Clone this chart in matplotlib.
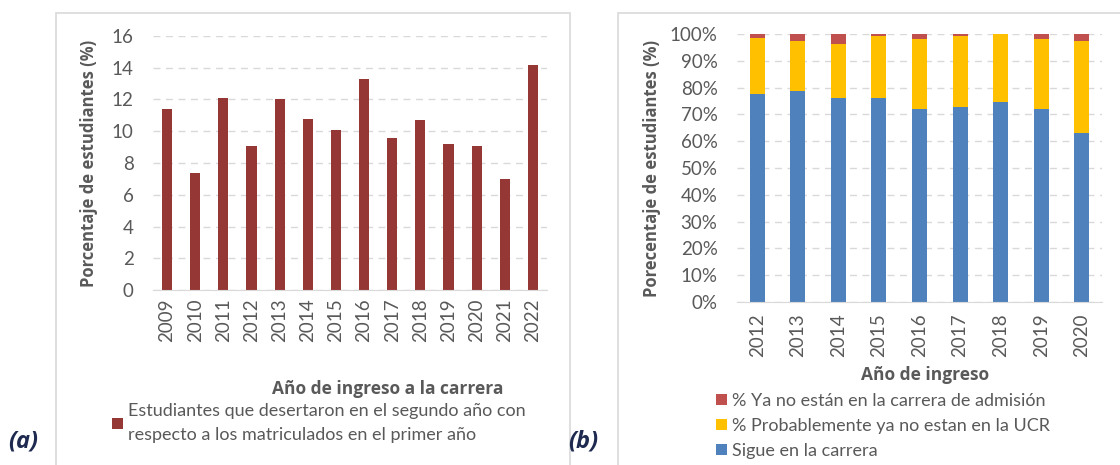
import matplotlib.pyplot as plt
from matplotlib.patches import Rectangle
import numpy as np

# (a) desertion in second year
years_a = ['2009', '2010', '2011', '2012', '2013', '2014', '2015',
           '2016', '2017', '2018', '2019', '2020', '2021', '2022']
desercion = [11.4, 7.4, 12.1, 9.1, 12.0, 10.8, 10.1, 13.3, 9.6, 10.7, 9.2, 9.1, 7.0, 14.2]

# (b) stacked shares
years_b = ['2012', '2013', '2014', '2015', '2016', '2017', '2018', '2019', '2020']
sigue = [77.5, 78.7, 76.3, 76.3, 72.1, 72.7, 74.5, 72.1, 63.2]
probable = [21.0, 18.7, 20.0, 23.0, 26.0, 26.6, 25.5, 26.0, 34.2]
ya_no = [1.5, 2.6, 3.7, 0.7, 1.9, 0.7, 0.0, 1.9, 2.6]

W, H = 1120, 465
plt.rcParams['font.family'] = ['Lato', 'DejaVu Sans']
bold_font = ['Open Sans', 'DejaVu Sans']
gray = '#595959'

fig = plt.figure(figsize=(W / 100, H / 100), dpi=100)

def px_axes(x0, y0, x1, y1):
    return fig.add_axes([x0 / W, 1 - y1 / H, (x1 - x0) / W, (y1 - y0) / H])

# panel frames
for x0, x1 in [(56, 570), (618, 1125)]:
    fig.patches.append(Rectangle((x0 / W, -0.01), (x1 - x0) / W, 1 - 13 / H + 0.01,
                                 transform=fig.transFigure, fill=False,
                                 edgecolor='#d9d9d9', lw=1.2))

def style(ax):
    for s in ['top', 'right', 'left']:
        ax.spines[s].set_visible(False)
    ax.spines['bottom'].set_color('#d9d9d9')
    ax.tick_params(length=0, colors=gray, labelsize=13.5)
    ax.yaxis.grid(True, color='#d9d9d9', ls=(0, (5, 4)), lw=1)
    ax.set_axisbelow(True)

# ---- (a)
ax1 = px_axes(153, 36, 547, 290)
x = np.arange(len(years_a))
ax1.bar(x, desercion, width=0.36, color='#953735',
        label='Estudiantes que desertaron en el segundo año con\nrespecto a los matriculados en el primer año')
ax1.set_xlim(-0.5, len(years_a) - 0.5)
ax1.set_ylim(0, 16)
ax1.set_yticks(range(0, 17, 2))
ax1.set_xticks(x)
ax1.set_xticklabels(years_a, rotation=90)
style(ax1)
ax1.tick_params(axis='y', pad=14)
ax1.tick_params(axis='x', pad=6)
ax1.set_ylabel('Porcentaje de estudiantes (%)', fontsize=12, fontweight='bold', color=gray,
               labelpad=10, family=bold_font)
fig.text(388 / W, 1 - 389 / H, 'Año de ingreso a la carrera', ha='center', va='center',
         fontsize=12.5, fontweight='bold', color=gray, family=bold_font)
leg1 = ax1.legend(loc='upper left', bbox_to_anchor=(112 / W, 1 - 403 / H), bbox_transform=fig.transFigure,
                  frameon=False, fontsize=13, handlelength=0.6, handleheight=0.6, handletextpad=0.3,
                  labelcolor=gray, borderpad=0, borderaxespad=0)
leg1.get_texts()[0].set_linespacing(1.65)

# ---- (b)
ax2 = px_axes(737, 34, 1102, 302)
xb = np.arange(len(years_b))
bw = 0.37
b1 = ax2.bar(xb, sigue, width=bw, color='#4F81BD', label='Sigue en la carrera')
b2 = ax2.bar(xb, probable, width=bw, bottom=sigue, color='#FFC000',
             label='% Probablemente ya no estan en la UCR')
bot = np.array(sigue) + np.array(probable)
b3 = ax2.bar(xb, ya_no, width=bw, bottom=bot, color='#C0504D',
             label='% Ya no están en la carrera de admisión')
ax2.set_xlim(-0.5, len(years_b) - 0.5)
ax2.set_ylim(0, 100)
ax2.set_yticks(range(0, 101, 10))
ax2.set_yticklabels([f'{v}%' for v in range(0, 101, 10)])
ax2.set_xticks(xb)
ax2.set_xticklabels(years_b, rotation=90)
style(ax2)
ax2.tick_params(axis='y', pad=14)
ax2.tick_params(axis='x', pad=8)
ax2.set_ylabel('Porecentaje de estudiantes (%)', fontsize=12, fontweight='bold', color=gray,
               labelpad=6, family=bold_font)
fig.text(925 / W, 1 - 375 / H, 'Año de ingreso', ha='center', va='center',
         fontsize=12.5, fontweight='bold', color=gray, family=bold_font)
ax2.legend(handles=[b3, b2, b1], loc='upper left', bbox_to_anchor=(716 / W, 1 - 393 / H),
           bbox_transform=fig.transFigure, frameon=False, fontsize=13, handlelength=0.6,
           handleheight=0.6, handletextpad=0.3, labelspacing=0.5, labelcolor=gray,
           borderpad=0, borderaxespad=0)

# panel letters
fig.text(8 / W, 1 - 441 / H, '(a)', fontsize=17, fontweight='bold', style='italic',
         color='#1F2A50', va='center', family=bold_font)
fig.text(568 / W, 1 - 441 / H, '(b)', fontsize=17, fontweight='bold', style='italic',
         color='#1F2A50', va='center', family=bold_font)

fig.savefig('out.png', dpi=100)
